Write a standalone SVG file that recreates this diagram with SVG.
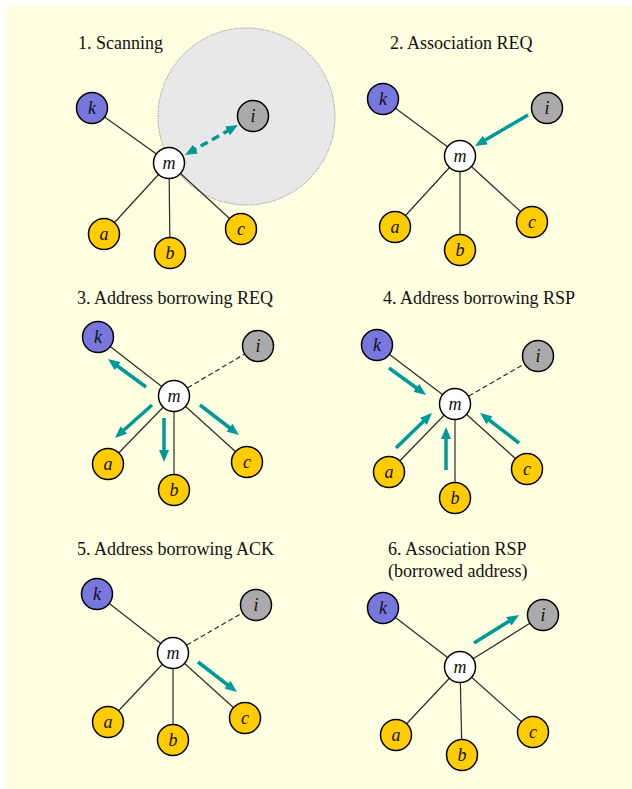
<svg xmlns="http://www.w3.org/2000/svg" width="632" height="789" viewBox="0 0 632 789">
<style>
.title{font-family:"Liberation Serif","Times New Roman",serif;font-size:18px;fill:#111}
.n circle{stroke:#000;stroke-width:1.5}
.n text{font-family:"Liberation Serif","Times New Roman",serif;font-style:italic;font-size:18px;fill:#111;text-anchor:middle}
.k circle{fill:#7777DD}
.i circle{fill:#AAAAAA}
.m circle{fill:#FFFFFF}
.y circle{fill:#FFCC00}
.e{stroke:#2a2a2a;stroke-width:1.2;fill:none}
.d{stroke-dasharray:5,3}
.ar{stroke:#009999;stroke-width:3.5;fill:none;marker-end:url(#ah)}
.dar{stroke:#009999;stroke-width:3.5;fill:none;stroke-dasharray:8,5;marker-end:url(#ah);marker-start:url(#ah)}
</style>
<defs>
<marker id="ah" viewBox="0 0 12 10" refX="7" refY="5" markerWidth="12" markerHeight="10" markerUnits="userSpaceOnUse" orient="auto-start-reverse">
<path d="M0,0 L12,5 L0,10 z" fill="#009999"/>
</marker>
</defs>
<rect x="0" y="0" width="632" height="789" fill="#FFFFFF"/>
<rect x="6" y="6" width="626" height="783" fill="#FFFFE1"/>

<circle id="range" cx="246.5" cy="116.5" r="88.5" fill="#E8E8E8" stroke="#999" stroke-width="1" stroke-dasharray="1.5,1"/>

<g id="titles">
<text class="title" x="78" y="49">1. Scanning</text>
<text class="title" x="390" y="49">2. Association REQ</text>
<text class="title" x="77" y="304">3. Address borrowing REQ</text>
<text class="title" x="383" y="304">4. Address borrowing RSP</text>
<text class="title" x="77" y="555">5. Address borrowing ACK</text>
<text class="title" x="388" y="555">6. Association RSP</text>
<text class="title" x="388" y="577">(borrowed address)</text>
</g>

<g id="connectors">
<!-- panel 1 -->
<line class="e" x1="169" y1="163" x2="92" y2="108"/>
<line class="e" x1="169" y1="163" x2="104" y2="234"/>
<line class="e" x1="169" y1="163" x2="170" y2="253"/>
<line class="e" x1="169" y1="163" x2="241" y2="229"/>
<!-- panel 2 -->
<line class="e" x1="460" y1="156" x2="383" y2="99"/>
<line class="e" x1="460" y1="156" x2="395" y2="227"/>
<line class="e" x1="460" y1="156" x2="460" y2="250"/>
<line class="e" x1="460" y1="156" x2="532" y2="222"/>
<!-- panel 3 -->
<line class="e" x1="174" y1="396" x2="98" y2="337"/>
<line class="e d" x1="174" y1="396" x2="258" y2="346"/>
<line class="e" x1="174" y1="396" x2="108" y2="464"/>
<line class="e" x1="174" y1="396" x2="174" y2="490"/>
<line class="e" x1="174" y1="396" x2="247" y2="462"/>
<!-- panel 4 -->
<line class="e" x1="455" y1="404" x2="377" y2="345"/>
<line class="e d" x1="455" y1="404" x2="538" y2="356"/>
<line class="e" x1="455" y1="404" x2="389" y2="472"/>
<line class="e" x1="455" y1="404" x2="455" y2="498"/>
<line class="e" x1="455" y1="404" x2="527" y2="469"/>
<!-- panel 5 -->
<line class="e" x1="173" y1="653" x2="97" y2="594"/>
<line class="e d" x1="173" y1="653" x2="256" y2="605"/>
<line class="e" x1="173" y1="653" x2="108" y2="722"/>
<line class="e" x1="173" y1="653" x2="173" y2="740"/>
<line class="e" x1="173" y1="653" x2="245" y2="718"/>
<!-- panel 6 -->
<line class="e" x1="460" y1="667" x2="383" y2="608"/>
<line class="e" x1="460" y1="667" x2="543" y2="615"/>
<line class="e" x1="460" y1="667" x2="396" y2="735"/>
<line class="e" x1="460" y1="667" x2="462" y2="755"/>
<line class="e" x1="460" y1="667" x2="533" y2="732"/>
</g>

<g id="p1-k" class="n k"><circle cx="92" cy="108" r="15.5"/><text x="92" y="114">k</text></g>
<g id="p1-i" class="n i"><circle cx="253" cy="116" r="15.5"/><text x="253" y="122">i</text></g>
<g id="p1-m" class="n m"><circle cx="169" cy="163" r="15.5"/><text x="169" y="169">m</text></g>
<g id="p1-a" class="n y"><circle cx="104" cy="234" r="15.5"/><text x="104" y="240">a</text></g>
<g id="p1-b" class="n y"><circle cx="170" cy="253" r="15.5"/><text x="170" y="259">b</text></g>
<g id="p1-c" class="n y"><circle cx="241" cy="229" r="15.5"/><text x="241" y="235">c</text></g>

<g id="p2-k" class="n k"><circle cx="383" cy="99" r="15.5"/><text x="383" y="105">k</text></g>
<g id="p2-i" class="n i"><circle cx="547" cy="108" r="15.5"/><text x="547" y="114">i</text></g>
<g id="p2-m" class="n m"><circle cx="460" cy="156" r="15.5"/><text x="460" y="162">m</text></g>
<g id="p2-a" class="n y"><circle cx="395" cy="227" r="15.5"/><text x="395" y="233">a</text></g>
<g id="p2-b" class="n y"><circle cx="460" cy="250" r="15.5"/><text x="460" y="256">b</text></g>
<g id="p2-c" class="n y"><circle cx="532" cy="222" r="15.5"/><text x="532" y="228">c</text></g>

<g id="p3-k" class="n k"><circle cx="98" cy="337" r="15.5"/><text x="98" y="343">k</text></g>
<g id="p3-i" class="n i"><circle cx="258" cy="346" r="15.5"/><text x="258" y="352">i</text></g>
<g id="p3-m" class="n m"><circle cx="174" cy="396" r="15.5"/><text x="174" y="402">m</text></g>
<g id="p3-a" class="n y"><circle cx="108" cy="464" r="15.5"/><text x="108" y="470">a</text></g>
<g id="p3-b" class="n y"><circle cx="174" cy="490" r="15.5"/><text x="174" y="496">b</text></g>
<g id="p3-c" class="n y"><circle cx="247" cy="462" r="15.5"/><text x="247" y="468">c</text></g>

<g id="p4-k" class="n k"><circle cx="377" cy="345" r="15.5"/><text x="377" y="351">k</text></g>
<g id="p4-i" class="n i"><circle cx="538" cy="356" r="15.5"/><text x="538" y="362">i</text></g>
<g id="p4-m" class="n m"><circle cx="455" cy="404" r="15.5"/><text x="455" y="410">m</text></g>
<g id="p4-a" class="n y"><circle cx="389" cy="472" r="15.5"/><text x="389" y="478">a</text></g>
<g id="p4-b" class="n y"><circle cx="455" cy="498" r="15.5"/><text x="455" y="504">b</text></g>
<g id="p4-c" class="n y"><circle cx="527" cy="469" r="15.5"/><text x="527" y="475">c</text></g>

<g id="p5-k" class="n k"><circle cx="97" cy="594" r="15.5"/><text x="97" y="600">k</text></g>
<g id="p5-i" class="n i"><circle cx="256" cy="605" r="15.5"/><text x="256" y="611">i</text></g>
<g id="p5-m" class="n m"><circle cx="173" cy="653" r="15.5"/><text x="173" y="659">m</text></g>
<g id="p5-a" class="n y"><circle cx="108" cy="722" r="15.5"/><text x="108" y="728">a</text></g>
<g id="p5-b" class="n y"><circle cx="173" cy="740" r="15.5"/><text x="173" y="746">b</text></g>
<g id="p5-c" class="n y"><circle cx="245" cy="718" r="15.5"/><text x="245" y="724">c</text></g>

<g id="p6-k" class="n k"><circle cx="383" cy="608" r="15.5"/><text x="383" y="614">k</text></g>
<g id="p6-i" class="n i"><circle cx="543" cy="615" r="15.5"/><text x="543" y="621">i</text></g>
<g id="p6-m" class="n m"><circle cx="460" cy="667" r="15.5"/><text x="460" y="673">m</text></g>
<g id="p6-a" class="n y"><circle cx="396" cy="735" r="15.5"/><text x="396" y="741">a</text></g>
<g id="p6-b" class="n y"><circle cx="462" cy="755" r="15.5"/><text x="462" y="761">b</text></g>
<g id="p6-c" class="n y"><circle cx="533" cy="732" r="15.5"/><text x="533" y="738">c</text></g>

<g id="messages">
<line class="dar" x1="189.4" y1="152.5" x2="233.6" y2="127.5"/>
<line class="ar" x1="528" y1="115" x2="479.3" y2="143.5"/>
<line class="ar" x1="146" y1="387" x2="112" y2="362"/>
<line class="ar" x1="152" y1="405" x2="118.7" y2="434.7"/>
<line class="ar" x1="164" y1="418" x2="164" y2="457"/>
<line class="ar" x1="200" y1="405" x2="235" y2="432"/>
<line class="ar" x1="389" y1="368" x2="422" y2="392"/>
<line class="ar" x1="396" y1="448" x2="428.4" y2="416.5"/>
<line class="ar" x1="446" y1="470" x2="446" y2="432"/>
<line class="ar" x1="519" y1="443" x2="484" y2="416"/>
<line class="ar" x1="198" y1="662" x2="233" y2="689"/>
<line class="ar" x1="474" y1="643" x2="514.8" y2="617.6"/>
</g>
</svg>
